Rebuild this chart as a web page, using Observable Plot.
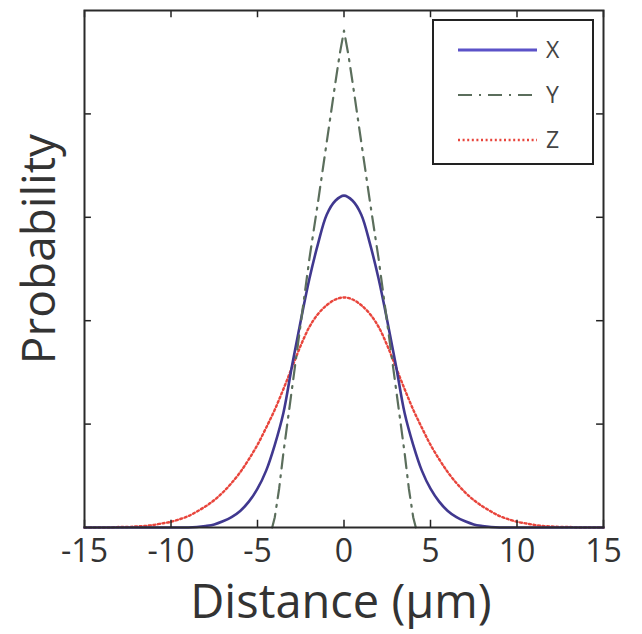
<!DOCTYPE html>
<html>
<head>
<meta charset="utf-8">
<script src="https://cdn.jsdelivr.net/npm/d3@7"></script>
<script src="https://cdn.jsdelivr.net/npm/@observablehq/plot@0.6"></script>
<style>
  html, body { margin: 0; padding: 0; background: #fff; }
  #wrap { position: relative; width: 642px; height: 634px; font-family: "Open Sans", sans-serif; }
  #legend { position: absolute; left: 432px; top: 19px; width: 162px; height: 146px; box-sizing: border-box;
            border: 2px solid #222; background: #fff; }
</style>
</head>
<body>
<div id="wrap"></div>
<script>
// ---- data ----
const distance = [-15,-14.5,-14,-13.5,-13,-12.5,-12,-11.5,-11,-10.5,-10,-9.5,-9,-8.5,-8,-7.5,-7,-6.5,-6,-5.5,-5,-4.5,-4,-3.5,-3,-2.5,-2,-1.5,-1,-0.5,0,
  0.5,1,1.5,2,2.5,3,3.5,4,4.5,5,5.5,6,6.5,7,7.5,8,8.5,9,9.5,10,10.5,11,11.5,12,12.5,13,13.5,14,14.5,15];
const probX = [0,0,0,0,0,0,0,0,0,0,0,0,0,0.001,0.003,0.006,0.012,0.020,0.032,0.050,0.075,0.110,0.160,0.222,0.314,0.400,0.481,0.549,0.605,0.632,0.642,
  0.632,0.605,0.549,0.481,0.400,0.314,0.222,0.160,0.110,0.075,0.050,0.032,0.020,0.012,0.006,0.003,0.001,0,0,0,0,0,0,0,0,0,0,0,0,0];
const probZ = [0,0,0,0,0.001,0.001,0.002,0.003,0.005,0.008,0.011,0.016,0.022,0.031,0.041,0.053,0.068,0.086,0.107,0.132,0.160,0.193,0.228,0.268,0.310,0.352,0.388,0.413,0.430,0.441,0.445,
  0.441,0.430,0.413,0.388,0.352,0.310,0.268,0.228,0.193,0.160,0.132,0.107,0.086,0.068,0.053,0.041,0.031,0.022,0.016,0.011,0.008,0.005,0.003,0.002,0.001,0.001,0,0,0,0];
const distanceY = [-4.15,-4,-3.75,-3.5,-3,-2.5,-2,-1.5,-1,-0.5,-0.25,0,0.25,0.5,1,1.5,2,2.5,3,3.5,3.75,4,4.15];
const probY = [0,0.02,0.075,0.145,0.27,0.395,0.52,0.63,0.745,0.86,0.915,0.961,0.915,0.86,0.745,0.63,0.52,0.395,0.27,0.145,0.075,0.02,0];
const xTicks = [-15,-10,-5,0,5,10,15];
const yTicks = [0.2,0.4,0.6,0.8];
const seriesNames = ["X","Y","Z"];
const xLabel = "Distance (μm)";
const yLabel = "Probability";

const colX = "#40388f", colY = "#5b6e5c", colZ = "#e8453c";

const rowsX = distance.map((d,i) => ({d, p: probX[i]}));
const rowsZ = distance.map((d,i) => ({d, p: probZ[i]}));
const rowsY = distanceY.map((d,i) => ({d, p: probY[i]}));

const chart = Plot.plot({
  width: 642, height: 634,
  marginLeft: 84, marginRight: 39, marginTop: 10, marginBottom: 107,
  style: {fontFamily: "'Open Sans', sans-serif", color: "#333", background: "#fff"},
  x: {domain: [-15, 15]},
  y: {domain: [0, 1]},
  marks: [
    Plot.lineY(rowsZ, {x: "d", y: "p", stroke: colZ, strokeWidth: 2.4, strokeDasharray: "2,2.6", curve: "catmull-rom"}),
    Plot.lineY(rowsX, {x: "d", y: "p", stroke: colX, strokeWidth: 2.6, curve: "catmull-rom"}),
    Plot.lineY(rowsY, {x: "d", y: "p", stroke: colY, strokeWidth: 2.2, strokeDasharray: "14,7,2,7"}),
    Plot.ruleX(xTicks, {y1: 0, y2: 0.014, stroke: "#222", strokeWidth: 1.5}),
    Plot.ruleX(xTicks, {y1: 0.986, y2: 1, stroke: "#222", strokeWidth: 1.5}),
    Plot.ruleY(yTicks, {x1: -15, x2: -14.6, stroke: "#222", strokeWidth: 1.5}),
    Plot.ruleY(yTicks, {x1: 14.6, x2: 15, stroke: "#222", strokeWidth: 1.5}),
    Plot.frame({stroke: "#2a2a2a", strokeWidth: 2}),
    Plot.axisX(xTicks, {tickSize: 0, tickPadding: 12, fontSize: 32, label: null, tickFormat: d => d < 0 ? "-" + Math.abs(d) : String(d)}),
    Plot.axisY({ticks: [], label: null, tickSize: 0}),
    Plot.text([xLabel], {frameAnchor: "bottom", dy: 75, fontSize: 47, fill: "#333", lineAnchor: "middle", textAnchor: "middle", dx: -3}),
    Plot.text([yLabel], {frameAnchor: "left", dx: -44, dy: -20, rotate: -90, fontSize: 46, fill: "#333", lineAnchor: "middle", textAnchor: "middle"})
  ]
});

const wrap = document.getElementById("wrap");
wrap.appendChild(chart);

// legend
const legend = document.createElement("div");
legend.id = "legend";
const ns = "http://www.w3.org/2000/svg";
const svg = document.createElementNS(ns, "svg");
svg.setAttribute("width", "158"); svg.setAttribute("height", "142");
const styles = [
  {stroke: "#5b52c8", dash: null, w: 3},
  {stroke: colY, dash: "14,7,2,7", w: 2.2},
  {stroke: colZ, dash: "2,2.6", w: 2.4}
];
seriesNames.forEach((name, i) => {
  const yy = 29 + i * 45;
  const ln = document.createElementNS(ns, "line");
  ln.setAttribute("x1", 24); ln.setAttribute("x2", 103);
  ln.setAttribute("y1", yy); ln.setAttribute("y2", yy);
  ln.setAttribute("stroke", styles[i].stroke);
  ln.setAttribute("stroke-width", styles[i].w);
  if (styles[i].dash) ln.setAttribute("stroke-dasharray", styles[i].dash);
  svg.appendChild(ln);
  const t = document.createElementNS(ns, "text");
  t.setAttribute("x", 112); t.setAttribute("y", yy);
  t.setAttribute("dy", "0.36em");
  t.setAttribute("font-size", "23");
  t.setAttribute("fill", "#444");
  t.setAttribute("font-family", "'Open Sans', sans-serif");
  t.textContent = name;
  svg.appendChild(t);
});
legend.appendChild(svg);
wrap.appendChild(legend);
</script>
</body>
</html>
